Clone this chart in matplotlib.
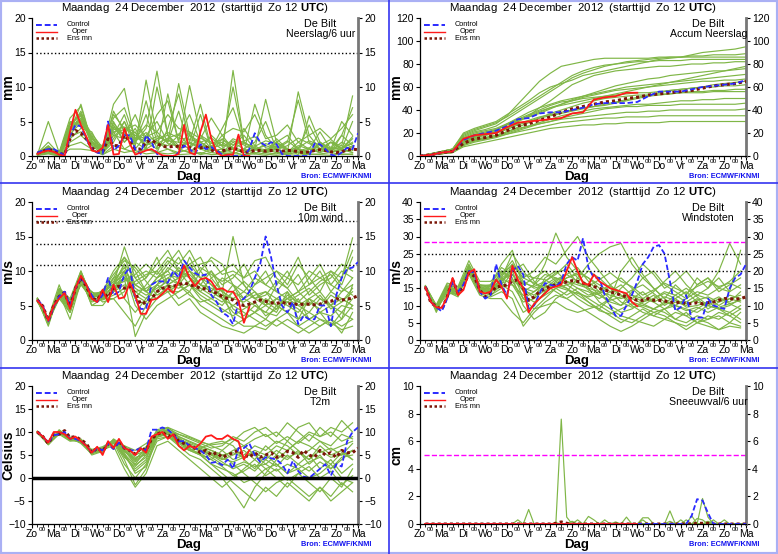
import numpy as np
import matplotlib
matplotlib.use("Agg")
import matplotlib.pyplot as plt
from matplotlib.lines import Line2D
from matplotlib.patches import Rectangle
from matplotlib.ticker import FixedLocator, FuncFormatter

plt.rcParams['font.family'] = ['Liberation Sans', 'DejaVu Sans']
plt.rcParams['mathtext.fontset'] = 'custom'
plt.rcParams['mathtext.rm'] = 'Liberation Sans'
plt.rcParams['mathtext.bf'] = 'Liberation Sans:bold'

# ---- time axes (hours after Zo 12 UTC) ----
hours6 = np.arange(6, 361, 6)      # control / ens mn, 6-hourly
hours12 = np.arange(6, 355, 12)    # members, 12-hourly
hours_acc = np.arange(0, 361, 12)  # accumulated precip
day_names = ["Zo", "Ma", "Di", "Wo", "Do", "Vr", "Za", "Zo", "Ma", "Di",
             "Wo", "Do", "Vr", "Za", "Zo", "Ma"]
n_oper6 = 40   # oper run stops at Wo 12 UTC (240 h)
n_oper12 = 21

title = r"Maandag  24 December  2012  (starttijd  Zo 12 $\mathbf{UTC}$)"

# ---- 1: Neerslag/6 uur ----
rain_control = [0.5, 0.8, 1.0, 1.0, 0.6, 0.0, 3.0, 4.5, 4.3, 2.5,
                1.0, 0.5, 0.3, 5.0, 0.8, 1.5, 3.0, 3.0, 1.0, 0.3,
                3.0, 2.0, 0.3, 0.0, 0.0, 0.0, 0.5, 1.5, 1.0, 0.3,
                1.7, 1.0, 1.3, 0.8, 0.2, 0.0, 0.0, 0.0, 0.0, 1.0,
                3.3, 2.0, 1.5, 2.0, 1.7, 0.3, 0.0, 0.0, 0.0, 0.0,
                0.0, 1.8, 1.7, 1.0, 0.2, 0.0, 0.5, 1.2, 1.0, 3.3]
rain_oper = [0.3, 0.6, 0.8, 0.6, 0.2, 0.0, 3.5, 6.7, 4.5, 2.8,
             0.8, 0.6, 1.2, 4.5, 0.2, 0.3, 4.0, 1.8, 0.2, 0.5,
             0.8, 1.0, 0.5, 0.1, 0.0, 0.0, 0.3, 4.5, 0.5, 0.2,
             3.5, 6.0, 2.5, 0.5, 0.0, 0.2, 0.2, 3.1, 0.0, 0.0]
rain_mean = [0.4, 0.7, 0.9, 0.8, 0.4, 0.2, 2.5, 3.7, 3.3, 2.5,
             1.2, 0.6, 0.6, 2.5, 1.5, 1.5, 3.0, 2.2, 1.0, 1.0,
             2.0, 2.3, 1.8, 1.4, 1.3, 1.4, 1.4, 1.4, 1.2, 1.0,
             1.2, 1.3, 0.9, 0.5, 0.7, 1.0, 1.1, 1.0, 0.5, 0.6,
             0.8, 0.8, 0.7, 0.8, 0.8, 0.7, 0.8, 0.8, 0.6, 0.5,
             0.6, 0.8, 0.9, 0.8, 0.6, 0.5, 0.6, 0.9, 1.0, 0.9]
rain_members = [
    [0.3, 1.2, 0.5, 5.5, 7.2, 2.0, 0.5, 4.5, 2.0, 3.5, 1.0, 2.0, 1.0, 0.5, 3.0, 2.0, 1.0, 0.5, 12.4, 2.0, 1.0, 0.5, 2.0, 1.0, 0.5, 0.5, 1.0, 2.0, 1.0, 2.5],
    [0.5, 0.8, 0.1, 4.0, 6.5, 2.5, 1.0, 7.5, 9.8, 2.0, 4.0, 12.3, 3.0, 1.0, 0.5, 2.0, 1.0, 3.0, 1.0, 0.5, 1.0, 0.5, 2.0, 3.0, 1.0, 0.5, 1.0, 2.0, 1.0, 0.5],
    [0.2, 5.0, 0.5, 3.5, 7.5, 2.0, 0.5, 3.0, 6.0, 1.5, 11.0, 3.0, 2.0, 10.5, 3.0, 1.0, 0.5, 2.5, 1.0, 0.5, 7.5, 3.0, 1.0, 0.5, 9.3, 3.0, 1.0, 2.0, 1.5, 8.7],
    [0.4, 1.0, 0.3, 4.5, 6.0, 2.0, 1.5, 6.0, 4.0, 3.0, 2.5, 6.0, 8.0, 2.0, 10.2, 3.0, 1.0, 0.5, 1.5, 3.0, 1.0, 8.2, 2.0, 1.0, 0.5, 0.3, 2.0, 1.0, 5.0, 3.0],
    [0.1, 0.5, 0.2, 2.5, 4.0, 3.5, 0.5, 2.0, 5.0, 2.0, 1.0, 10.0, 3.0, 1.5, 2.0, 7.5, 1.0, 0.5, 1.0, 2.0, 1.0, 0.5, 0.3, 1.0, 0.2, 5.8, 2.0, 1.0, 0.5, 1.0],
    [0.3, 1.5, 0.0, 3.0, 5.5, 2.0, 0.8, 5.0, 2.0, 4.0, 1.0, 0.5, 4.0, 9.0, 2.0, 1.0, 3.0, 1.5, 10.0, 2.0, 1.0, 0.5, 1.0, 2.0, 8.1, 2.0, 1.0, 0.5, 3.0, 7.0],
    [0.2, 0.6, 0.1, 2.0, 3.0, 1.5, 0.3, 3.5, 1.0, 2.0, 6.0, 1.0, 2.5, 1.0, 0.5, 0.3, 1.0, 0.5, 2.0, 1.0, 0.3, 1.0, 0.5, 0.3, 1.0, 0.5, 2.0, 0.5, 1.0, 0.5],
    [0.3, 1.0, 0.2, 4.0, 5.0, 2.5, 1.0, 4.0, 3.0, 6.0, 2.0, 1.0, 9.0, 2.0, 1.0, 6.0, 1.0, 0.5, 0.3, 1.0, 2.0, 5.0, 1.0, 0.5, 2.0, 1.0, 0.5, 2.0, 1.0, 5.0],
    [0.1, 0.3, 0.0, 1.5, 2.0, 1.0, 0.2, 1.5, 1.0, 0.5, 1.0, 0.5, 0.3, 0.5, 1.0, 0.2, 0.5, 0.3, 0.5, 0.2, 0.5, 0.3, 0.1, 0.3, 0.5, 0.2, 0.3, 0.5, 0.2, 0.3],
    [0.4, 1.3, 0.4, 5.0, 4.5, 3.0, 0.5, 6.5, 3.5, 2.0, 8.0, 2.0, 1.5, 3.0, 6.0, 2.0, 1.0, 4.0, 7.0, 2.0, 1.0, 0.5, 1.0, 0.5, 1.0, 4.5, 1.5, 0.5, 1.0, 2.0],
    [0.2, 0.9, 0.1, 3.5, 6.0, 2.0, 0.4, 2.5, 5.0, 1.0, 3.0, 5.0, 2.0, 6.5, 1.0, 3.0, 2.0, 1.0, 0.5, 4.0, 1.5, 0.5, 2.5, 1.0, 0.5, 1.0, 3.5, 1.0, 3.0, 1.5],
    [0.3, 0.7, 0.2, 2.8, 3.5, 1.8, 0.6, 3.0, 2.5, 3.0, 1.5, 2.5, 3.0, 1.0, 2.0, 1.0, 1.5, 2.0, 1.0, 0.5, 1.0, 1.5, 1.0, 0.5, 1.5, 1.0, 0.5, 1.0, 1.5, 0.8],
    [0.4, 2.0, 0.3, 4.8, 5.8, 3.2, 1.2, 5.5, 7.0, 2.5, 4.5, 3.5, 6.0, 4.0, 3.5, 2.5, 5.5, 3.0, 4.0, 3.5, 6.0, 2.5, 3.0, 4.5, 2.0, 3.0, 4.0, 2.5, 4.0, 6.0],
    [0.2, 0.4, 0.1, 1.0, 1.0, 0.8, 0.2, 1.0, 0.5, 0.8, 0.3, 0.5, 1.0, 0.2, 0.3, 0.5, 0.2, 0.3, 0.1, 0.2, 0.3, 0.1, 0.5, 0.2, 0.1, 0.3, 0.2, 0.1, 0.3, 0.2],
    [0.3, 1.1, 0.2, 4.2, 5.2, 2.2, 0.7, 4.2, 3.2, 2.6, 2.2, 2.8, 2.2, 2.0, 1.8, 1.5, 1.2, 1.6, 1.2, 0.8, 1.2, 0.9, 1.4, 1.0, 0.7, 1.2, 0.9, 1.3, 0.8, 1.4],
    [0.2, 0.8, 0.2, 3.2, 4.8, 2.8, 0.5, 3.8, 4.2, 3.4, 1.6, 2.2, 3.4, 2.6, 2.4, 2.0, 2.6, 1.4, 2.2, 1.6, 0.8, 1.8, 1.2, 2.2, 1.0, 0.6, 1.6, 2.4, 1.0, 2.8],
    [0.4, 1.4, 0.3, 4.6, 6.2, 2.6, 0.9, 4.8, 2.8, 2.2, 3.4, 1.8, 2.6, 3.2, 1.4, 2.6, 1.8, 2.4, 1.6, 2.2, 2.8, 1.2, 0.9, 1.5, 2.6, 1.8, 1.1, 0.7, 2.0, 1.2],
    [0.3, 0.9, 0.1, 3.8, 5.5, 1.6, 0.6, 3.5, 3.8, 4.5, 2.8, 3.5, 1.8, 1.4, 3.4, 1.2, 0.8, 1.0, 2.5, 1.8, 1.4, 2.2, 1.8, 0.8, 1.2, 2.2, 1.6, 0.9, 1.2, 1.8],
]

# ---- 2: Accum Neerslag ----
acc_control = [0, 1, 3, 4, 14, 18, 20, 22, 26, 32, 33, 37, 38, 38, 40, 42,
               45, 46, 46, 46, 47, 52, 56, 56, 56, 58, 60, 61, 62, 63, 66]
acc_oper = [0, 1, 3, 4, 15, 18, 19, 20, 25, 29, 30, 31, 32, 33, 37, 38,
            49, 51, 52, 55, 55]
acc_mean = [0, 1, 3, 4, 11, 15, 16, 18, 22, 26, 28, 31, 34, 38, 41, 43,
            45, 47, 48, 50, 51, 53, 54, 55, 56, 57, 59, 61, 62, 63, 65]
acc_members = [
    [0, 1, 4, 6, 18, 22, 25, 28, 35, 45, 55, 65, 72, 78, 80, 82, 84, 85, 85, 85, 85, 85, 86, 86, 86, 86, 86, 86, 86, 86, 86],
    [0, 2, 4, 6, 20, 24, 27, 30, 36, 42, 48, 55, 60, 63, 66, 70, 72, 74, 76, 78, 80, 82, 84, 85, 86, 88, 90, 91, 92, 93, 95],
    [0, 1, 2, 3, 8, 10, 12, 14, 16, 18, 20, 22, 24, 25, 26, 27, 27, 28, 28, 29, 29, 29, 29, 30, 30, 30, 30, 30, 30, 30, 30],
    [0, 1, 3, 5, 14, 18, 20, 22, 28, 32, 36, 40, 44, 47, 48, 50, 51, 52, 53, 54, 55, 55, 56, 57, 58, 59, 60, 60, 61, 61, 62],
    [0, 1, 3, 4, 13, 17, 19, 21, 25, 30, 35, 42, 48, 55, 62, 66, 70, 72, 74, 75, 76, 77, 78, 78, 79, 80, 80, 81, 81, 82, 82],
    [0, 1, 2, 4, 12, 15, 16, 18, 21, 24, 26, 28, 30, 32, 33, 34, 35, 36, 37, 38, 38, 39, 39, 40, 40, 40, 40, 40, 40, 40, 41],
    [0, 1, 3, 5, 16, 20, 22, 24, 28, 33, 38, 42, 45, 48, 50, 52, 54, 56, 58, 60, 61, 62, 63, 64, 65, 66, 67, 68, 69, 70, 71],
    [0, 1, 2, 4, 10, 13, 15, 17, 20, 23, 26, 29, 32, 35, 37, 39, 41, 42, 43, 44, 45, 45, 46, 47, 48, 48, 49, 49, 50, 50, 50],
    [0, 2, 4, 6, 17, 21, 23, 26, 32, 38, 44, 50, 56, 62, 68, 72, 75, 78, 80, 82, 83, 84, 85, 86, 86, 87, 87, 88, 88, 88, 89],
    [0, 1, 3, 4, 12, 16, 18, 20, 24, 28, 31, 34, 36, 38, 40, 42, 43, 44, 46, 48, 50, 52, 53, 54, 55, 56, 56, 57, 57, 58, 58],
    [0, 1, 2, 3, 9, 12, 14, 16, 19, 22, 25, 28, 30, 33, 35, 37, 39, 41, 42, 43, 43, 44, 44, 44, 45, 45, 45, 45, 45, 45, 46],
    [0, 1, 3, 5, 15, 19, 21, 23, 27, 31, 34, 37, 41, 45, 49, 52, 55, 58, 61, 63, 65, 67, 68, 70, 71, 72, 73, 74, 74, 75, 76],
    [0, 1, 2, 3, 10, 13, 15, 17, 19, 21, 23, 25, 27, 29, 30, 31, 32, 33, 33, 34, 34, 34, 35, 35, 35, 35, 35, 35, 35, 35, 35],
    [0, 1, 3, 4, 13, 17, 19, 21, 25, 30, 34, 38, 42, 45, 48, 51, 53, 55, 57, 58, 59, 60, 61, 62, 63, 64, 65, 65, 66, 66, 67],
    [0, 1, 3, 5, 14, 18, 20, 23, 27, 31, 35, 39, 42, 44, 46, 48, 50, 52, 54, 56, 58, 60, 62, 64, 66, 68, 70, 72, 74, 76, 78],
    [0, 1, 2, 4, 11, 14, 16, 18, 21, 25, 29, 33, 37, 40, 43, 46, 48, 50, 51, 52, 53, 53, 54, 54, 55, 55, 55, 56, 56, 56, 56],
    [0, 1, 3, 4, 12, 16, 18, 20, 23, 27, 30, 33, 35, 37, 39, 41, 43, 45, 47, 49, 51, 53, 55, 57, 58, 59, 60, 62, 63, 64, 65],
    [0, 2, 4, 6, 19, 23, 26, 29, 34, 40, 46, 52, 58, 64, 70, 74, 77, 79, 80, 81, 82, 82, 83, 83, 83, 84, 84, 84, 84, 84, 84],
]

# ---- 3: 10m wind ----
wind_control = [5.8, 5.0, 2.7, 4.8, 6.3, 7.0, 5.0, 7.5, 9.0, 8.0,
                6.5, 5.5, 6.5, 9.0, 6.5, 7.0, 9.5, 10.5, 6.0, 4.5,
                4.5, 8.0, 8.5, 8.5, 8.3, 10.0, 9.0, 11.5, 10.5, 9.7,
                9.3, 9.5, 6.5, 5.5, 4.0, 3.5, 2.3, 5.5, 6.0, 7.0,
                9.0, 11.0, 15.0, 12.0, 8.0, 5.0, 4.0, 5.5, 2.3, 3.5,
                3.0, 3.0, 5.0, 5.0, 2.0, 6.5, 9.0, 10.3, 10.5, 11.3]
wind_oper = [5.7, 4.8, 2.8, 5.0, 6.0, 6.8, 4.5, 7.5, 9.3, 8.0,
             6.0, 5.5, 7.3, 5.5, 8.0, 6.0, 6.2, 8.3, 6.5, 3.8,
             3.8, 5.8, 6.0, 6.7, 7.5, 6.8, 8.5, 10.8, 9.0, 7.8,
             8.8, 9.0, 8.5, 7.3, 7.5, 7.0, 7.0, 5.7, 2.5, 4.8]
wind_mean = [5.8, 4.9, 2.8, 5.0, 6.3, 6.9, 4.8, 7.5, 9.0, 7.8,
             6.0, 5.8, 7.0, 6.2, 7.5, 7.8, 7.5, 7.8, 6.8, 5.2,
             5.5, 6.0, 7.0, 7.5, 7.7, 7.8, 8.0, 8.3, 8.0, 7.8,
             7.5, 7.4, 7.0, 6.8, 6.3, 6.0, 5.8, 5.2, 5.0, 5.2,
             5.5, 5.8, 5.6, 5.4, 5.3, 5.5, 5.2, 5.3, 5.1, 5.2,
             5.2, 5.1, 5.2, 5.5, 5.6, 6.0, 5.8, 5.9, 6.1, 6.4]
wind_members = [
    [6.0, 2.8, 7.0, 5.5, 9.5, 6.5, 7.0, 8.0, 13.5, 9.0, 7.0, 9.0, 10.0, 8.0, 12.0, 9.0, 10.0, 7.0, 15.0, 8.0, 6.0, 5.0, 4.0, 7.0, 3.0, 6.0, 4.0, 5.0, 3.0, 8.0],
    [5.8, 2.5, 6.5, 4.0, 8.5, 5.5, 6.0, 9.0, 10.0, 6.0, 8.0, 10.0, 12.0, 11.0, 13.0, 10.0, 8.0, 6.0, 5.0, 4.0, 3.0, 2.0, 3.0, 4.0, 2.0, 3.0, 2.0, 3.0, 1.0, 4.0],
    [5.6, 3.0, 7.5, 6.0, 10.0, 6.0, 7.0, 10.0, 12.0, 8.0, 9.0, 11.0, 13.0, 10.0, 9.0, 7.0, 6.0, 5.0, 7.0, 6.0, 8.0, 9.0, 10.0, 8.0, 11.0, 9.0, 7.0, 10.0, 8.0, 12.0],
    [6.0, 2.2, 7.0, 5.0, 8.0, 7.0, 6.0, 6.0, 4.0, 2.0, 5.0, 7.0, 9.0, 8.0, 10.0, 8.0, 7.0, 6.0, 4.0, 3.0, 4.0, 5.0, 6.0, 5.0, 4.0, 6.0, 5.0, 7.0, 6.0, 5.0],
    [5.5, 3.2, 8.0, 4.0, 9.0, 5.0, 5.0, 7.0, 9.0, 0.5, 4.0, 6.0, 8.0, 9.0, 11.0, 12.0, 9.0, 7.0, 3.0, 2.0, 2.0, 3.0, 2.0, 3.0, 2.0, 1.0, 2.0, 3.0, 2.0, 3.0],
    [6.1, 2.9, 6.0, 5.0, 9.0, 6.0, 7.0, 8.0, 11.0, 9.0, 10.0, 9.0, 10.0, 12.0, 9.0, 8.0, 10.0, 8.0, 9.0, 11.0, 8.0, 10.0, 7.0, 9.0, 12.0, 8.0, 10.0, 7.0, 9.0, 13.0],
    [5.9, 2.0, 7.0, 5.5, 10.0, 6.0, 6.0, 7.0, 8.0, 7.0, 6.0, 8.0, 7.0, 7.0, 8.0, 6.0, 5.0, 4.0, 5.0, 6.0, 5.0, 4.0, 6.0, 7.0, 5.0, 6.0, 7.0, 5.0, 6.0, 5.0],
    [5.7, 3.0, 7.0, 5.0, 8.0, 6.0, 7.0, 9.0, 12.0, 10.0, 7.0, 9.0, 11.0, 13.0, 10.0, 8.0, 7.0, 9.0, 8.0, 5.0, 4.0, 3.0, 5.0, 4.0, 6.0, 3.0, 4.0, 2.0, 3.0, 5.0],
    [6.0, 2.6, 6.0, 4.0, 9.0, 5.0, 6.0, 8.0, 10.0, 5.0, 3.0, 5.0, 6.0, 7.0, 8.0, 7.0, 9.0, 10.0, 11.0, 9.0, 10.0, 8.0, 7.0, 6.0, 7.0, 8.0, 9.0, 10.0, 9.0, 14.8],
    [5.8, 2.7, 7.0, 5.0, 9.0, 6.0, 6.0, 8.0, 9.0, 8.0, 7.0, 6.0, 7.0, 8.0, 7.0, 5.0, 4.0, 3.0, 2.0, 3.0, 4.0, 6.0, 5.0, 4.0, 3.0, 4.0, 3.0, 2.0, 4.0, 3.0],
    [5.6, 2.4, 7.0, 5.0, 9.0, 6.0, 6.0, 7.0, 10.0, 8.0, 7.0, 8.0, 9.0, 10.0, 11.0, 9.0, 8.0, 7.0, 6.0, 7.0, 9.0, 8.0, 10.0, 9.0, 8.0, 10.0, 9.0, 8.0, 10.0, 9.0],
    [6.0, 3.1, 7.0, 5.0, 9.0, 6.0, 7.0, 8.0, 11.0, 6.0, 5.0, 7.0, 8.0, 9.0, 10.0, 9.0, 7.0, 6.0, 8.0, 7.0, 6.0, 7.0, 5.0, 6.0, 5.0, 4.0, 6.0, 5.0, 4.0, 6.0],
    [5.7, 2.8, 6.8, 3.0, 8.5, 7.0, 5.5, 6.0, 7.0, 11.0, 9.0, 12.0, 8.0, 6.0, 7.0, 10.0, 12.0, 11.0, 8.0, 6.0, 7.0, 5.0, 8.0, 10.0, 7.0, 9.0, 11.0, 8.0, 7.0, 9.0],
    [5.9, 2.3, 7.2, 4.5, 9.8, 6.5, 6.5, 9.0, 6.0, 4.0, 6.0, 8.0, 7.0, 5.0, 6.0, 4.0, 3.0, 2.0, 1.5, 1.0, 2.0, 1.5, 3.0, 2.0, 1.0, 2.0, 3.0, 2.5, 1.5, 2.0],
    [5.8, 2.6, 6.6, 4.8, 8.8, 6.2, 6.4, 7.5, 9.0, 7.0, 7.5, 8.5, 9.5, 9.0, 9.5, 8.0, 7.5, 6.5, 6.0, 5.5, 6.5, 7.0, 6.0, 5.5, 6.5, 7.5, 6.0, 5.0, 7.0, 8.0],
    [5.9, 2.9, 7.3, 5.2, 9.2, 6.8, 6.9, 8.5, 10.5, 7.5, 6.5, 7.5, 8.5, 10.5, 9.0, 7.5, 6.5, 5.5, 7.0, 8.5, 7.0, 5.5, 4.5, 6.0, 7.0, 5.5, 4.5, 6.5, 5.5, 7.0],
    [6.0, 2.5, 6.8, 4.2, 8.2, 5.8, 5.8, 6.5, 7.5, 8.5, 9.5, 10.0, 8.0, 7.5, 8.5, 10.5, 9.5, 8.5, 9.5, 8.0, 6.0, 6.5, 8.5, 7.5, 5.5, 7.0, 8.5, 9.5, 7.5, 6.5],
    [5.7, 2.7, 7.1, 5.8, 9.6, 6.3, 7.2, 9.5, 11.5, 10.5, 8.5, 6.5, 7.5, 8.0, 6.5, 5.5, 6.0, 7.5, 4.5, 3.5, 5.0, 4.0, 3.5, 5.5, 4.5, 3.0, 4.0, 3.5, 5.0, 4.5],
    [5.9, 2.8, 6.9, 5.1, 9.1, 6.1, 6.7, 8.2, 9.5, 6.5, 5.5, 8.0, 10.5, 9.5, 10.5, 11.0, 11.5, 9.5, 10.0, 9.0, 11.5, 12.0, 9.0, 7.5, 9.5, 6.5, 8.0, 9.0, 11.0, 10.0],
    [5.8, 2.4, 7.4, 5.4, 9.4, 6.6, 6.2, 7.8, 8.5, 9.5, 11.0, 9.5, 11.5, 10.0, 8.0, 6.5, 5.5, 4.5, 3.5, 4.5, 5.5, 3.5, 4.5, 6.5, 5.5, 5.0, 6.5, 4.5, 5.5, 7.5],
]

# ---- 4: Windstoten ----
gust_control = [15.5, 11.0, 9.5, 8.3, 12.0, 17.0, 14.0, 16.0, 20.0, 19.5,
                14.0, 12.0, 13.0, 22.0, 16.0, 13.0, 20.0, 21.5, 19.0, 9.0,
                10.0, 13.5, 16.5, 16.0, 15.5, 17.0, 22.0, 24.0, 23.0, 29.5,
                21.0, 18.0, 18.0, 13.0, 10.0, 7.0, 7.0, 10.0, 13.0, 17.0,
                22.0, 24.0, 27.0, 27.5, 25.0, 17.0, 8.5, 9.5, 13.0, 6.0,
                6.5, 6.5, 12.0, 10.0, 9.5, 9.0, 15.0, 18.0, 19.0, 22.0]
gust_oper = [15.3, 11.0, 9.5, 9.3, 12.5, 18.0, 13.0, 14.5, 19.5, 20.5,
             14.0, 13.5, 14.0, 17.5, 15.5, 12.0, 21.5, 17.5, 15.0, 8.0,
             10.5, 12.0, 13.5, 15.0, 15.5, 16.0, 20.0, 24.0, 20.0, 16.5,
             16.0, 19.0, 17.0, 16.0, 15.0, 14.5, 14.0, 13.5, 11.0, 9.8]
gust_mean = [15.3, 10.8, 9.8, 8.8, 12.5, 17.5, 13.5, 15.5, 19.5, 18.5,
             14.5, 12.5, 13.5, 15.5, 15.5, 16.0, 17.0, 17.5, 15.0, 11.5,
             12.5, 14.0, 15.0, 15.5, 16.0, 16.5, 16.8, 17.2, 17.0, 16.5,
             16.0, 15.5, 15.0, 14.5, 14.0, 13.5, 13.0, 12.5, 12.0, 11.5,
             11.5, 12.0, 11.5, 11.5, 11.3, 11.0, 10.8, 11.0, 10.5, 10.5,
             10.8, 10.5, 10.8, 11.0, 11.5, 12.0, 12.0, 11.8, 12.0, 12.5]
gust_members = [
    [15.5, 9.0, 15.0, 14.0, 21.0, 15.0, 14.0, 18.0, 25.0, 20.0, 16.0, 22.0, 31.0, 24.0, 20.0, 18.0, 15.0, 12.0, 10.0, 14.0, 18.0, 15.0, 12.0, 16.0, 13.0, 18.0, 15.0, 20.0, 28.0, 22.0],
    [15.0, 8.5, 14.0, 13.0, 20.0, 14.0, 13.0, 16.0, 22.0, 18.0, 20.0, 24.0, 22.0, 26.0, 30.0, 24.0, 20.0, 16.0, 13.0, 10.0, 8.0, 7.0, 9.0, 6.0, 8.0, 5.0, 7.0, 6.0, 8.0, 6.0],
    [15.8, 10.0, 16.0, 15.0, 22.0, 16.0, 15.0, 20.0, 18.0, 10.0, 6.0, 8.0, 12.0, 14.0, 18.0, 22.0, 25.0, 27.0, 28.0, 22.0, 18.0, 20.0, 16.0, 14.0, 12.0, 16.0, 18.0, 14.0, 16.0, 18.0],
    [15.2, 9.5, 13.0, 14.5, 19.0, 13.0, 12.0, 12.0, 8.0, 5.0, 9.0, 12.0, 15.0, 16.0, 14.0, 12.0, 10.0, 8.0, 6.0, 5.0, 7.0, 9.0, 8.0, 6.0, 5.0, 7.0, 6.0, 8.0, 7.0, 5.0],
    [15.5, 8.0, 15.0, 13.0, 21.0, 14.0, 16.0, 22.0, 26.0, 15.0, 12.0, 18.0, 20.0, 17.0, 15.0, 13.0, 14.0, 16.0, 18.0, 15.0, 12.0, 14.0, 17.0, 20.0, 16.0, 13.0, 15.0, 18.0, 14.0, 26.0],
    [15.6, 9.2, 14.0, 12.5, 20.0, 15.0, 13.0, 15.0, 20.0, 22.0, 17.0, 14.0, 16.0, 18.0, 19.0, 15.0, 11.0, 9.0, 7.0, 6.0, 5.0, 4.0, 6.0, 5.0, 3.0, 5.0, 4.0, 3.0, 5.0, 4.0],
    [15.0, 10.2, 16.5, 15.5, 23.0, 17.0, 17.0, 20.0, 17.0, 12.0, 14.0, 17.0, 19.0, 22.0, 18.0, 16.0, 13.0, 11.0, 10.0, 12.0, 14.0, 11.0, 9.0, 11.0, 10.0, 12.0, 9.0, 11.0, 13.0, 12.0],
    [15.4, 9.0, 15.0, 14.0, 20.0, 14.0, 14.0, 17.0, 21.0, 16.0, 18.0, 20.0, 17.0, 15.0, 12.0, 10.0, 9.0, 12.0, 15.0, 18.0, 22.0, 19.0, 15.0, 17.0, 20.0, 16.0, 18.0, 15.0, 17.0, 20.0],
    [15.7, 9.8, 14.5, 14.0, 21.5, 15.0, 15.0, 19.0, 23.0, 17.0, 15.0, 16.0, 14.0, 12.0, 10.0, 8.0, 6.0, 4.0, 2.5, 4.0, 6.0, 8.0, 7.0, 5.0, 4.0, 6.0, 5.0, 3.0, 4.0, 3.5],
    [15.3, 8.8, 15.0, 13.5, 20.5, 14.5, 14.5, 16.0, 14.0, 8.0, 10.0, 14.0, 17.0, 19.0, 21.0, 17.0, 14.0, 10.0, 8.0, 9.0, 11.0, 13.0, 10.0, 12.0, 14.0, 11.0, 10.0, 12.0, 11.0, 14.0],
    [15.5, 9.3, 15.5, 14.5, 21.0, 15.5, 16.0, 21.0, 19.0, 14.0, 16.0, 19.0, 18.0, 16.0, 17.0, 20.0, 18.0, 15.0, 13.0, 11.0, 10.0, 9.0, 11.0, 10.0, 9.0, 8.0, 10.0, 9.0, 8.0, 10.0],
    [15.1, 9.6, 14.5, 13.0, 19.5, 13.5, 12.5, 14.0, 12.0, 4.0, 8.0, 11.0, 13.0, 12.0, 14.0, 11.0, 9.0, 7.0, 5.0, 7.0, 9.0, 7.0, 6.0, 8.0, 7.0, 5.0, 6.0, 7.0, 5.0, 8.0],
    [15.5, 9.0, 15.0, 14.0, 20.0, 15.0, 14.0, 18.0, 16.0, 13.0, 11.0, 13.0, 15.0, 13.0, 15.0, 14.0, 12.0, 14.0, 16.0, 13.0, 11.0, 12.0, 14.0, 13.0, 11.0, 13.0, 12.0, 10.0, 12.0, 11.0],
    [15.4, 9.4, 15.2, 14.2, 20.5, 15.0, 14.0, 17.0, 20.0, 12.0, 9.0, 10.0, 11.0, 9.0, 8.0, 9.0, 10.0, 12.0, 20.0, 24.0, 19.0, 15.0, 12.0, 9.0, 7.0, 9.0, 11.0, 9.0, 7.0, 9.0],
    [15.4, 9.1, 15.1, 14.1, 20.6, 15.2, 14.5, 17.5, 19.0, 15.0, 14.0, 16.0, 18.0, 17.0, 16.0, 15.0, 14.0, 13.0, 12.0, 13.0, 12.0, 11.0, 12.5, 11.5, 10.5, 11.5, 12.5, 11.0, 12.0, 13.0],
    [15.6, 9.7, 15.4, 14.4, 21.2, 15.8, 15.5, 18.5, 22.0, 18.0, 16.5, 15.0, 17.5, 19.0, 17.0, 14.5, 13.0, 11.5, 12.5, 14.5, 16.0, 13.5, 11.0, 10.0, 12.0, 14.0, 13.0, 15.0, 14.0, 16.0],
    [15.2, 8.9, 14.8, 13.8, 20.2, 14.8, 14.2, 16.5, 17.5, 14.5, 13.0, 15.5, 16.5, 18.0, 19.5, 18.0, 16.0, 14.0, 11.0, 9.5, 10.0, 12.0, 13.5, 12.0, 9.5, 10.0, 11.0, 12.5, 10.5, 11.5],
    [15.5, 9.4, 15.6, 14.6, 21.6, 16.0, 15.8, 19.5, 21.5, 19.0, 18.0, 17.5, 15.5, 14.5, 13.5, 12.5, 13.5, 15.5, 14.0, 12.0, 10.5, 9.0, 10.5, 13.0, 15.0, 12.5, 10.0, 9.0, 10.0, 12.0],
    [15.3, 9.2, 15.0, 14.3, 20.8, 15.4, 14.8, 17.8, 20.5, 16.5, 15.5, 17.0, 19.5, 20.5, 16.5, 15.5, 17.5, 19.5, 17.0, 15.5, 13.0, 14.5, 16.5, 15.0, 13.5, 15.5, 17.0, 15.5, 16.5, 15.0],
    [15.4, 9.6, 15.3, 13.9, 20.4, 14.6, 14.0, 15.5, 16.0, 11.0, 12.0, 14.5, 16.0, 15.0, 13.0, 11.0, 8.5, 7.5, 9.0, 10.5, 9.5, 8.0, 9.0, 10.0, 8.5, 9.5, 8.0, 9.5, 10.5, 9.0],
]

# ---- 5: T2m ----
temp_control = [10.0, 9.0, 7.7, 9.3, 9.5, 10.0, 8.5, 8.5, 8.0, 7.0,
                5.5, 6.5, 6.0, 7.5, 6.3, 7.7, 6.5, 6.0, 6.0, 6.5,
                6.0, 10.5, 10.5, 11.0, 10.5, 9.5, 8.0, 8.0, 7.0, 6.5,
                6.0, 5.0, 3.3, 3.5, 2.8, 4.0, 2.0, 6.5, 6.5, 7.5,
                5.0, 3.5, 4.5, 4.3, 4.0, 3.0, 1.0, 3.7, 1.5, 0.3,
                0.0, 1.0, 2.0, 3.0, 0.5, 3.0, 2.5, 8.0, 10.0, 11.0]
temp_oper = [10.0, 9.0, 7.7, 10.0, 10.0, 9.5, 8.5, 9.0, 8.0, 7.0,
             5.5, 6.8, 5.0, 8.0, 6.5, 8.5, 6.5, 6.0, 5.0, 6.5,
             5.5, 9.0, 9.5, 10.0, 8.5, 9.5, 7.0, 6.0, 7.0, 6.5,
             7.5, 9.0, 9.3, 8.5, 8.5, 9.3, 8.5, 8.0, 4.0, 6.0]
temp_mean = [10.0, 9.0, 7.5, 9.5, 9.5, 10.3, 8.8, 9.0, 8.3, 7.5,
             5.5, 6.5, 5.8, 7.5, 6.5, 8.0, 6.5, 6.0, 5.2, 6.5,
             6.0, 8.5, 9.5, 10.0, 9.0, 9.5, 8.0, 7.5, 7.0, 6.5,
             5.5, 6.0, 5.0, 5.5, 4.5, 5.0, 5.5, 6.0, 5.0, 4.5,
             5.5, 4.5, 5.0, 5.5, 4.5, 4.8, 5.8, 5.5, 4.5, 6.0,
             5.0, 4.5, 6.0, 5.0, 5.5, 4.5, 6.0, 5.5, 5.5, 6.5]
temp_members = [
    [10.0, 7.5, 10.0, 8.5, 8.0, 5.5, 6.0, 8.0, 4.0, -1.5, 2.0, 9.0, 10.0, 7.0, 5.0, 4.0, 2.0, 0.0, -3.0, -6.5, -2.0, 1.0, 4.0, 6.0, 8.0, 10.0, 9.0, 11.0, 10.0, 12.0],
    [9.8, 7.8, 10.2, 8.8, 7.5, 5.2, 6.5, 7.5, 6.0, 3.0, 6.0, 10.5, 11.0, 9.0, 8.0, 7.0, 6.0, 5.0, 3.0, 1.0, -1.0, -3.0, -1.0, 0.0, -2.0, -4.0, -2.0, -5.0, -3.0, -1.0],
    [10.1, 7.4, 9.8, 8.2, 8.5, 6.0, 5.5, 8.5, 7.0, 6.0, 7.5, 9.5, 9.0, 8.0, 6.0, 5.0, 4.0, 6.0, 8.0, 10.0, 11.0, 9.0, 10.0, 8.0, 11.0, 12.0, 9.0, 10.0, 8.0, 9.0],
    [9.9, 7.6, 10.5, 8.6, 7.8, 5.8, 6.2, 7.0, 2.0, -2.0, 1.0, 7.0, 8.0, 6.0, 4.0, 2.0, 0.0, -2.0, 0.0, 2.0, 4.0, 2.0, 0.0, -2.0, 1.0, -1.0, -3.0, 0.0, -2.0, 2.0],
    [10.2, 7.3, 9.5, 8.0, 8.2, 5.5, 6.0, 8.0, 5.0, 2.0, 4.0, 10.0, 10.5, 8.5, 7.0, 6.0, 5.0, 4.0, 5.0, 6.0, 4.0, 7.0, 5.0, 8.0, 6.0, 4.0, 7.0, 5.0, 6.0, 4.0],
    [10.0, 7.7, 10.0, 8.4, 8.0, 6.2, 6.8, 8.2, 6.5, 4.5, 5.0, 9.0, 10.0, 9.5, 8.5, 7.5, 6.5, 7.0, 9.0, 8.0, 10.0, 11.0, 9.0, 12.0, 10.0, 8.0, 11.0, 9.0, 12.5, 10.0],
    [9.7, 7.5, 10.3, 8.9, 8.3, 5.0, 5.8, 7.8, 3.0, 0.0, 3.0, 8.0, 9.0, 7.5, 6.0, 5.0, 3.0, 2.0, 1.0, -1.0, 0.0, 2.0, 3.0, 1.0, 2.0, 0.0, 1.0, 3.0, 0.0, -1.0],
    [10.0, 7.8, 10.0, 8.5, 7.7, 5.6, 6.3, 8.0, 6.0, 4.0, 6.5, 10.0, 11.0, 10.0, 9.0, 8.0, 7.0, 6.0, 4.0, 5.0, 7.0, 6.0, 8.0, 7.0, 5.0, 6.0, 8.0, 6.0, 7.0, 8.0],
    [10.1, 7.2, 9.9, 8.3, 8.1, 5.4, 6.1, 8.3, 5.5, 1.0, 2.5, 9.5, 10.5, 8.0, 6.5, 5.0, 3.0, 1.0, -1.0, -3.0, -5.0, -2.0, -4.0, -1.0, -3.0, -5.0, -2.0, -4.0, -1.0, -3.0],
    [9.9, 7.6, 10.1, 8.7, 8.0, 5.7, 6.4, 7.5, 7.0, 5.0, 6.0, 9.0, 9.5, 8.5, 7.5, 6.5, 5.5, 4.5, 6.0, 7.0, 5.0, 3.0, 5.0, 4.0, 6.0, 3.0, 5.0, 2.0, 4.0, 6.0],
    [10.0, 7.4, 10.0, 8.6, 7.9, 5.9, 6.6, 8.1, 4.5, 2.5, 5.0, 8.5, 9.0, 7.0, 6.0, 6.5, 7.5, 8.0, 7.0, 4.0, 2.0, 5.0, 3.0, 1.0, 3.0, 5.0, 2.0, 4.0, 1.0, 3.0],
    [10.0, 7.5, 10.1, 8.5, 8.0, 5.5, 6.2, 8.0, 6.0, 3.5, 5.5, 9.8, 10.2, 8.8, 7.0, 6.0, 5.0, 3.5, 2.0, 3.0, 1.5, 4.0, 2.5, 5.0, 3.0, 1.5, 3.5, 2.0, 4.5, 5.0],
    [10.0, 7.6, 10.0, 8.6, 8.0, 5.6, 6.3, 8.0, 6.2, 4.2, 6.0, 9.6, 10.4, 9.0, 7.8, 6.8, 6.0, 5.0, 5.5, 4.5, 5.5, 4.0, 6.0, 4.5, 5.5, 4.0, 6.0, 4.5, 5.0, 6.0],
    [9.9, 7.5, 10.1, 8.5, 8.1, 5.8, 6.1, 7.9, 5.8, 3.8, 5.5, 9.3, 10.0, 8.6, 7.2, 6.2, 5.2, 4.2, 3.5, 4.5, 6.0, 5.0, 7.0, 6.0, 8.0, 7.0, 5.5, 6.5, 5.0, 7.5],
    [10.0, 7.4, 9.9, 8.4, 7.9, 5.4, 6.0, 8.1, 5.2, 2.8, 4.5, 9.0, 9.8, 8.2, 6.8, 5.8, 4.5, 3.0, 2.5, 3.5, 2.5, 3.0, 1.5, 3.0, 2.0, 3.5, 4.5, 3.0, 5.5, 4.0],
    [10.1, 7.7, 10.2, 8.7, 8.2, 6.0, 6.5, 8.3, 6.8, 5.2, 6.8, 10.2, 10.8, 9.5, 8.8, 7.8, 7.2, 7.5, 8.5, 7.0, 8.5, 9.5, 7.5, 9.0, 7.5, 9.5, 8.0, 7.0, 9.5, 8.5],
    [9.8, 7.3, 9.8, 8.3, 7.8, 5.3, 5.9, 7.7, 4.8, 1.5, 3.5, 8.8, 9.6, 7.8, 6.3, 5.3, 4.0, 2.5, 0.5, 1.5, 3.0, 0.5, 2.0, -0.5, 1.0, 2.5, 0.0, 1.5, -1.5, 0.5],
]

# ---- 6: Sneeuwval/6 uur (6-hourly) ----
snow_control = [0, 0, 0, 0, 0, 0, 0, 0, 0, 0,
                0, 0, 0, 0, 0, 0, 0, 0, 0, 0,
                0, 0, 0, 0, 0, 0, 0, 0, 0, 0,
                0, 0, 0, 0, 0, 0, 0, 0, 0, 0,
                0, 0, 0, 0, 0, 0, 0, 0, 0, 0.6,
                1.8, 1.7, 0.8, 0, 0, 0, 0, 0, 0, 0]
snow_oper = [0, 0, 0, 0, 0, 0, 0, 0, 0, 0,
             0, 0, 0, 0, 0, 0, 0, 0, 0, 0,
             0, 0, 0, 0, 0, 0, 0, 0, 0, 0,
             0, 0, 0, 0, 0, 0, 0, 0, 0, 0]
snow_mean = [0, 0, 0, 0, 0, 0, 0, 0, 0, 0,
             0, 0, 0, 0, 0, 0, 0, 0, 0, 0,
             0, 0, 0, 0, 0.05, 0.15, 0.05, 0, 0, 0,
             0, 0, 0, 0, 0, 0, 0, 0, 0, 0,
             0, 0, 0, 0, 0, 0, 0, 0, 0, 0,
             0.05, 0.05, 0.05, 0, 0, 0, 0, 0, 0, 0]
snow_members = [
    [0, 0, 0, 0, 0, 0, 0, 0, 0, 0, 0, 0, 0, 0, 0, 0, 0, 0, 0, 0,
     0, 0, 0, 0, 0, 7.6, 0.5, 0, 0.3, 0, 0, 0, 0, 0, 0, 0, 0, 0, 0, 0,
     0, 0, 0, 0, 0, 0, 0, 0, 0, 0, 0, 0, 0, 0, 0, 0, 0, 0, 0, 0],
    [0, 0, 0, 0, 0, 0, 0, 0, 0, 0, 0, 0, 0, 0, 0, 0, 0, 0.3, 0, 1.05,
     0, 0, 0, 0, 0, 0, 0, 0, 0, 0, 0.55, 0.3, 0, 0, 0, 0, 0, 0, 0, 0,
     0, 0, 0, 0, 0, 0, 0, 0, 0, 0, 0, 0, 0, 0, 0, 0, 0, 0, 0, 0],
    [0, 0, 0, 0, 0, 0, 0, 0, 0, 0, 0, 0, 0, 0, 0, 0, 0, 0, 0, 0,
     0, 0, 0, 0, 0, 0, 0, 0, 0, 0, 0, 0, 0, 0.3, 0, 0, 0, 0.5, 0, 0,
     0.45, 0.45, 0, 0, 0, 0, 0, 0, 0, 0, 0, 0, 0, 0, 0, 0, 0, 0, 0, 0],
    [0, 0, 0, 0, 0, 0, 0, 0, 0, 0, 0, 0, 0, 0, 0, 0, 0, 0, 0, 0,
     0, 0, 0, 0, 0, 0, 0, 0, 0, 0, 0, 0, 0, 0, 0, 0, 0, 0, 0, 0,
     0, 0, 0, 0, 0, 0.95, 0, 0.3, 0, 0.6, 0, 1.85, 0.5, 0, 0, 0, 0, 0, 0, 0],
    [0, 0, 0, 0, 0, 0, 0, 0, 0, 0, 0, 0, 0, 0, 0, 0, 0, 0, 0, 0,
     0, 0, 0, 0, 0, 0, 0, 0, 0, 0, 0, 0, 0, 0, 0, 0, 0, 0, 0, 0,
     0.3, 0, 0, 0, 0, 0, 0, 0, 0, 0, 0.4, 0.3, 0, 0.3, 0, 0.3, 0, 0, 0, 0],
    [0, 0, 0, 0, 0, 0, 0, 0, 0, 0, 0, 0, 0, 0, 0, 0, 0, 0, 0, 0,
     0, 0, 0, 0, 0.1, 0, 0, 0.2, 0, 0, 0, 0, 0, 0, 0, 0.15, 0, 0, 0, 0,
     0, 0, 0, 0, 0, 0.2, 0, 0, 0.3, 0, 0, 0, 0.2, 0, 0, 0, 0, 0, 0, 0],
]

# threshold lines: (value, colour, style)
rain_levels = [(15, 'black', ':')]
wind_levels = [(10.8, 'black', ':'), (13.9, 'black', ':'), (17.2, 'black', ':')]
gust_levels = [(20, 'black', ':'), (25, 'black', ':'), (28.5, '#ff00ff', '--')]
temp_levels = [(0, 'black', '-')]
snow_levels = [(5, '#ff00ff', '--')]

GREEN = '#7fb646'
BLUE = '#2a2aff'
RED = '#ff1a1a'
MEAN = '#7a1608'

W, H = 778, 554
fig = plt.figure(figsize=(W / 100, H / 100), dpi=100)


def make_axes(left_px, top_px):
    return fig.add_axes([left_px / W, 1 - (top_px + 138) / H, 326 / W, 138 / H])


def style_axes(ax, ylim, yticks, ylabel, name, levels):
    ax.set_xlim(0, 360)
    ax.set_ylim(*ylim)
    ax.set_yticks(yticks)
    ax.spines['top'].set_visible(False)
    ax.spines['right'].set_color('#777777')
    ax.spines['right'].set_linewidth(2)
    ax.spines['left'].set_linewidth(0.9)
    ax.spines['bottom'].set_linewidth(0.9)
    ax.tick_params(axis='y', which='both', left=True, right=True,
                   labelright=True, labelsize=7.5, length=3, width=0.8, pad=1.5)
    ax.set_xticks(np.arange(0, 361, 24))
    ax.set_xticklabels(day_names)
    ax.xaxis.set_minor_locator(FixedLocator(np.arange(6, 360, 6)))
    ax.xaxis.set_minor_formatter(FuncFormatter(lambda v, p: '00' if int(round(v)) % 24 == 12 else ''))
    ax.tick_params(axis='x', which='major', labelsize=7.5, length=3, width=0.8, pad=0.3)
    ax.tick_params(axis='x', which='minor', labelsize=4.6, length=2, width=0.6, pad=0.3)
    ax.set_ylabel(ylabel, fontsize=10, fontweight='bold')
    ax.yaxis.set_label_coords(-0.052, 0.5)
    for val, col, ls in levels:
        if ls == '-':
            ax.axhline(val, color=col, ls=ls, lw=2.5, zorder=6)
        else:
            ax.axhline(val, xmin=0.012, color=col, ls=ls, lw=1.0, zorder=2)
    ax.text(0.5, 1.075, title, transform=ax.transAxes, ha='center', va='center', fontsize=8.2)
    ax.text(0.885, 0.955, "De Bilt", transform=ax.transAxes, ha='center', va='center', fontsize=7.8)
    ax.text(0.885, 0.884, name, transform=ax.transAxes, ha='center', va='center', fontsize=7.6)
    ax.text(0.48, -0.15, "Dag", transform=ax.transAxes, ha='center', va='center',
            fontsize=9.5, fontweight='bold')
    ax.text(1.04, -0.15, "Bron: ECMWF/KNMI", transform=ax.transAxes, ha='right', va='center',
            fontsize=5.3, color='#1010ee', fontweight='bold')
    # legend
    lx = [0.012, 0.077]
    ax.plot(lx, [0.95, 0.95], transform=ax.transAxes, color=BLUE, ls=(0, (3, 1.5)), lw=1.4, clip_on=False)
    ax.plot(lx, [0.90, 0.90], transform=ax.transAxes, color=RED, lw=1.0, clip_on=False)
    ax.plot(lx, [0.855, 0.855], transform=ax.transAxes, color=MEAN, ls=(0, (1, 1)), lw=1.8, clip_on=False)
    ax.text(0.107, 0.95, "Control", transform=ax.transAxes, fontsize=5.3, va='center')
    ax.text(0.147, 0.90, "Oper", transform=ax.transAxes, fontsize=5.3, va='center', ha='center')
    ax.text(0.107, 0.855, "Ens mn", transform=ax.transAxes, fontsize=5.3, va='center')


def draw_plume(ax, xm, members, xd, control, oper, mean, n_oper):
    for m in members:
        ax.plot(xm, m, color=GREEN, lw=0.85, zorder=1)
    ax.plot(xd, mean, color=MEAN, ls=(0, (1, 1)), lw=2.2, zorder=3)
    ax.plot(xd, control, color=BLUE, ls=(0, (3, 1.5)), lw=1.3, zorder=4)
    ax.plot(xd[:n_oper], oper, color=RED, lw=1.3, zorder=5)


ax1 = make_axes(32, 18)
draw_plume(ax1, hours12, rain_members, hours6, rain_control, rain_oper, rain_mean, n_oper6)
style_axes(ax1, (0, 20), np.arange(0, 21, 5), "mm", "Neerslag/6 uur", rain_levels)

ax2 = make_axes(420, 18)
draw_plume(ax2, hours_acc, acc_members, hours_acc, acc_control, acc_oper, acc_mean, n_oper12)
style_axes(ax2, (0, 120), np.arange(0, 121, 20), "mm", "Accum Neerslag", [])

ax3 = make_axes(32, 202)
draw_plume(ax3, hours12, wind_members, hours6, wind_control, wind_oper, wind_mean, n_oper6)
style_axes(ax3, (0, 20), np.arange(0, 21, 5), "m/s", "10m wind", wind_levels)

ax4 = make_axes(420, 202)
draw_plume(ax4, hours12, gust_members, hours6, gust_control, gust_oper, gust_mean, n_oper6)
style_axes(ax4, (0, 40), np.arange(0, 41, 5), "m/s", "Windstoten", gust_levels)

ax5 = make_axes(32, 386)
draw_plume(ax5, hours12, temp_members, hours6, temp_control, temp_oper, temp_mean, n_oper6)
style_axes(ax5, (-10, 20), np.arange(-10, 21, 5), "Celsius", "T2m", temp_levels)

ax6 = make_axes(420, 386)
draw_plume(ax6, hours6, snow_members, hours6, snow_control, snow_oper, snow_mean, n_oper6)
style_axes(ax6, (0, 10), np.arange(0, 11, 2), "cm", "Sneeuwval/6 uur", snow_levels)

# panel frames
fig.add_artist(Rectangle((0, 0), 1, 1, transform=fig.transFigure, fill=False,
                         edgecolor='#aab0f4', lw=3))
fig.add_artist(Line2D([389 / W, 389 / W], [0, 1], transform=fig.transFigure, color='#3535f0', lw=1.2))
for ypx in (183, 368):
    fig.add_artist(Line2D([0, 1], [1 - ypx / H, 1 - ypx / H], transform=fig.transFigure,
                          color='#3535f0', lw=1.2))

fig.savefig("out.png", dpi=100)
